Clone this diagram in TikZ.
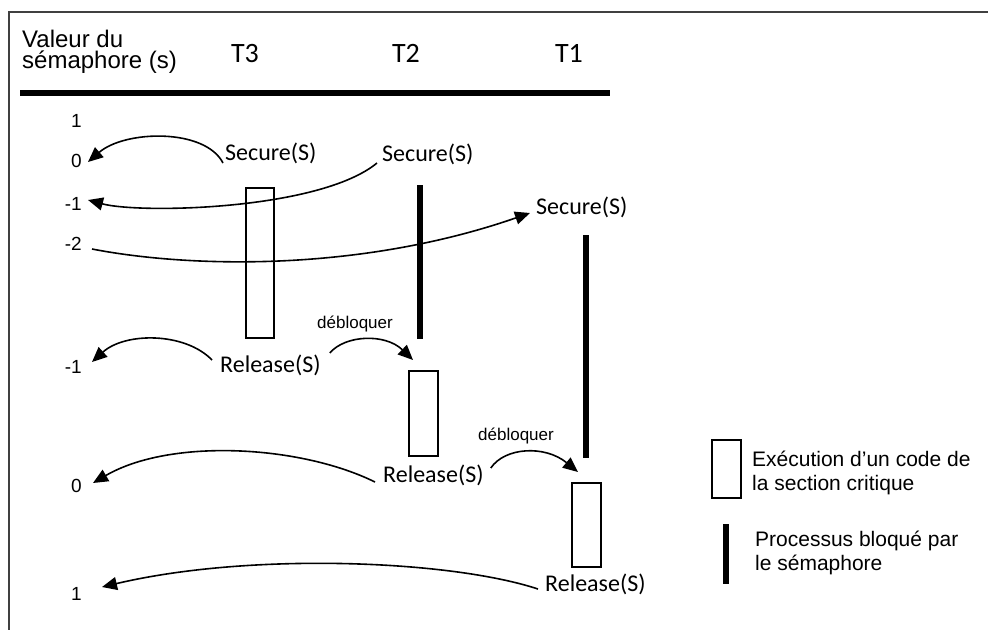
\documentclass[tikz,border=0pt]{standalone}
\usepackage{fontspec}
\setmainfont{Liberation Sans}
\newfontfamily\calfont{Carlito}
\usetikzlibrary{arrows.meta}
\begin{document}
\begin{tikzpicture}[x=1pt,y=-1pt,
  lbl/.style={font=\calfont\fontsize{24}{24}\selectfont, inner sep=0pt, anchor=base west},
  thd/.style={font=\calfont\fontsize{28}{28}\selectfont, inner sep=0pt, anchor=base},
  num/.style={font=\fontsize{19}{19}\selectfont, inner sep=0pt, anchor=base east},
  deb/.style={font=\fontsize{17}{17}\selectfont, inner sep=0pt, anchor=base west},
  hdr/.style={font=\fontsize{24}{21}\selectfont, inner sep=0pt, align=left, anchor=north west},
  leg/.style={font=\fontsize{21}{21}\selectfont, inner sep=0pt, anchor=base west},
  crit/.style={draw, line width=2pt, inner sep=0pt, minimum width=29pt},
  blk/.style={fill=black, inner sep=0pt, minimum width=6pt},
  arr/.style={line width=1.6pt, -{Triangle[length=15pt,width=13pt]}},
]
\useasboundingbox (0,0) rectangle (988,630);
% frame
\draw[line width=1.5pt, black!75] (988,12) -- (9,12) -- (9,630);
% header
\node[hdr] (h1) at (22,30) {Valeur du\\sémaphore (s)};
\node[thd] (t3) at (245,62) {T3};
\node[thd] (t2) at (406,62) {T2};
\node[thd] (t1) at (569,62) {T1};
\draw[line width=6pt] (20,93) -- (610,93);
% values
\node[num] (n1a) at (82,127) {1};
\node[num] (n0a) at (82,167) {0};
\node[num] (nm1a) at (82,210) {-1};
\node[num] (nm2) at (82,250) {-2};
\node[num] (nm1b) at (82,373) {-1};
\node[num] (n0b) at (82,492) {0};
\node[num] (n1b) at (82,600) {1};
% labels
\node[lbl] (sec3) at (225,160) {Secure(S)};
\node[lbl] (sec2) at (382,161) {Secure(S)};
\node[lbl] (sec1) at (536,214) {Secure(S)};
\node[lbl] (rel3) at (220,372) {Release(S)};
\node[lbl] (rel2) at (383,482) {Release(S)};
\node[lbl] (rel1) at (545,591) {Release(S)};
\node[deb] (deb1) at (317,328) {débloquer};
\node[deb] (deb2) at (478,440) {débloquer};
% critical sections and blocked bars
\node[crit, minimum width=28pt, minimum height=150pt] (r3) at (260,263) {};
\node[crit, minimum height=85pt] (r2) at (423.5,413.5) {};
\node[crit, minimum height=84pt] (r1) at (586.5,525) {};
\node[blk, minimum height=154pt] (b2) at (420,262) {};
\node[blk, minimum height=223pt] (b1) at (585.5,346.5) {};
% arrows
\draw[arr] ([shift={(-2,3)}]sec3.base west) .. controls (205,128) and (125,130) .. ([shift={(6,-5)}]n0a.base east);
\draw[arr] ([shift={(-5,2)}]sec2.base west) .. controls (320,210) and (140,214) .. ([shift={(6,-10)}]nm1a.base east);
\draw[arr] ([shift={(10,-1)}]nm2.base east) .. controls (190,268) and (360,272) .. ([shift={(-6,-1)}]sec1.base west);
\draw[arr] ([shift={(-8,-12)}]rel3.base west) .. controls (185,332) and (125,332) .. ([shift={(10,-11)}]nm1b.base east);
\draw[arr] ([shift={(9,-19)}]rel3.base east) .. controls (345,335) and (385,333) .. ([shift={(-10.5,-10)}]r2.north);
\draw[arr] ([shift={(-8,0)}]rel2.base west) .. controls (300,445) and (170,438) .. ([shift={(11,-9)}]n0b.base east);
\draw[arr] ([shift={(7,-14)}]rel2.base east) .. controls (505,447) and (545,445) .. ([shift={(-8.5,-10)}]r1.north);
\draw[arr] ([shift={(-7,-2)}]rel1.base west) .. controls (450,560) and (250,552) .. ([shift={(20,-13)}]n1b.base east);
% legend
\node[crit, minimum height=58pt] (lr) at (726.5,469) {};
\node[leg] (l1) at (752,466) {Exécution d’un code de};
\node[leg] (l2) at (752,490) {la section critique};
\node[blk, minimum height=60pt] (lb) at (726,554) {};
\node[leg] (l3) at (755,546) {Processus bloqué par};
\node[leg] (l4) at (755,570) {le sémaphore};
\end{tikzpicture}
\end{document}
